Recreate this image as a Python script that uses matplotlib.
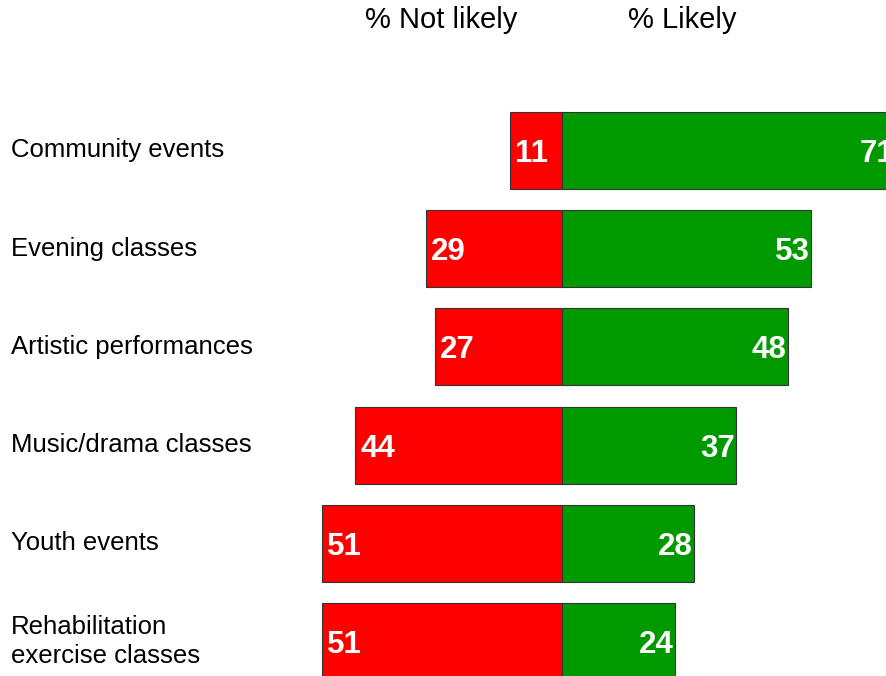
import matplotlib.pyplot as plt

categories = ['Community events', 'Evening classes', 'Artistic performances',
              'Music/drama classes', 'Youth events', 'Rehabilitation\nexercise classes']
not_likely = [11, 29, 27, 44, 51, 51]
likely = [71, 53, 48, 37, 28, 24]

RED = '#ff0000'
GREEN = '#009900'

plt.rcParams['font.family'] = ['Liberation Sans', 'DejaVu Sans']

fig = plt.figure(figsize=(8.87, 6.76), dpi=100)
ax = fig.add_axes([0, 0, 1, 1])

# px scale: 4.7 px per percentage point, zero at x=562
ax.set_xlim(-562 / 4.7, (887 - 562) / 4.7)
ax.set_ylim((676 - 150.5) / 98.2, -150.5 / 98.2)
ax.axis('off')

ys = list(range(len(categories)))
ax.barh(ys, [-v for v in not_likely], height=0.784, color=RED,
        edgecolor='#333333', linewidth=0.8)
ax.barh(ys, likely, height=0.784, color=GREEN,
        edgecolor='#333333', linewidth=0.8)

for y, n, l, cat in zip(ys, not_likely, likely, categories):
    ax.annotate(str(n), xy=(-n, y), xytext=(5, 0), textcoords='offset pixels',
                color='white', fontsize=22.5, fontweight='bold',
                ha='left', va='center_baseline', annotation_clip=False)
    ax.annotate(str(l), xy=(l, y), xytext=(-1, 0), textcoords='offset pixels',
                color='white', fontsize=22.5, fontweight='bold',
                ha='right', va='center_baseline', annotation_clip=False, clip_on=True)
    ax.text(11 / 887, y, cat, transform=ax.get_yaxis_transform(),
            fontsize=18.5, ha='left', va='center', linespacing=1.25)

fig.text(441 / 887, 1 - 20 / 676, '% Not likely', fontsize=21, ha='center', va='center')
fig.text(682 / 887, 1 - 20 / 676, '% Likely', fontsize=21, ha='center', va='center')

fig.savefig('out.png', dpi=100)
